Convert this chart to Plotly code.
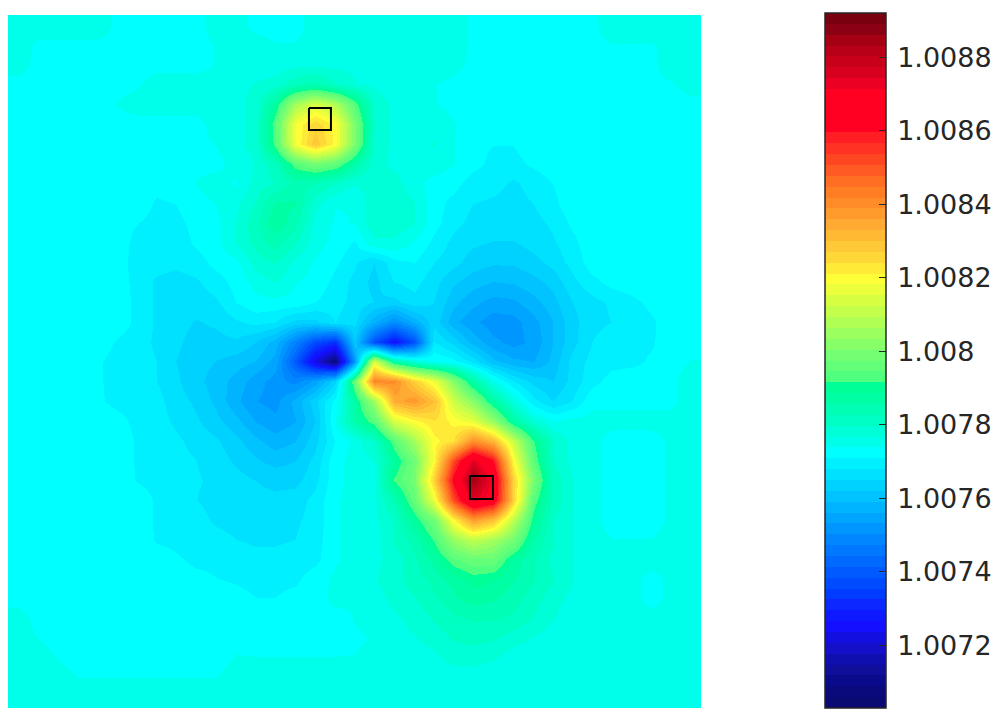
import plotly.graph_objects as go

# cell values, in units of 1e-5 above z_base
z_base = 1.00702
r00 = [74,74,74,74,74,71,71,71,71,71,73,73,71,71,71,73,74,74,74,74,74,74,74,71,71,71,71,71,71,71,74,74,74,74,74]
r01 = [74,71,71,71,71,71,71,71,71,71,72,73,73,72,72,73,74,74,74,74,74,74,74,71,71,71,71,71,71,71,71.7,71.7,71.7,72.5,74]
r02 = [73,71,71,71,71,71,71,71,71,71,72,73,73,73,74,74,74,74,74,74,74,74,73,71,71,71,71,71,71,71,71,71,71,74,74]
r03 = [71,71,71,71,71,71,71.5,73,73,73,73,74,75,76,80,82,78,75,74,73,73,72,71,71,71,71,71,71,71,71,71,71,71,71.5,73]
r04 = [71,71,71,71,71,72,73,73,73,73,73,74,76,86,104,112,106,92,77,74,72,72,71,71,71,71,71,71,71,71,71,71,71,71,71]
r05 = [71,71,71,71,71,71,71,71,71,71,73,74,76,92,116,124,118,98,78,74,73,74,72,71,71,71,71,71,71,71,71,71,71,71,71]
r06 = [71,71,71,71,71,71,71,71,71,71,72,74,76,91,116,127,118,98,77,74,74,75,72,70,69,69,70.5,71,71,71,71,71,71,71,71]
r07 = [71,71,71,71,71,71,71,71,71,71,71,73,75,80,92,97,94,84,76,74,74,74,72,70,68,68,69.5,71,71,71,71,71,71,71,71]
r08 = [71,71,71,71,71,71,71,70,70.5,72,73,71.5,76,78,82,81,78,75,76,76,73,70.5,70,67.5,67,65.5,67,69,71,71,71,71,71,71,71]
r09 = [71,71,71,71,71,71,70.5,68.5,69,71,72,74,78,84,84,76,72,72,77,77,75,70,68,66,65.5,65,66,68,71,71,71,71,71,71,71]
r10 = [71,71,71,71,71,71,69,68,68,70,71,75,80,86,82,74,71.5,72,77,77,75,70,67,65,64.5,64.5,65,66.5,69.5,71,71,71,71,71,71]
r11 = [71,71,71,71,71,71,67.5,67,67,69.5,71,75,79,82,78,73,71,68.5,74,74,71.5,68,65,63.5,62.8,62.8,64,65.5,68,71,71,71,71,71,71]
r12 = [71,71,71,71,71,71,67,67,66.5,67.5,70,71,76,78,74,71.5,69.5,66.5,63,68,69,66,64,61.5,60.5,60.5,62,64,67,70.5,71,71,71,71,71]
r13 = [71,71,71,71,71,71,67.5,65.5,65,65.5,67.5,70,73,75,72,71,68,65,62,66,67,64,60.5,58.5,57,57.5,59,61,65,68,70,71,71,71,71]
r14 = [71,71,71,71,71,71,68,65.5,65,64.5,65.5,69,71,71,71,69,67,65,63,62,65,63,58,55,53,53.5,56,59,63,65,66.5,68,70,71,71]
r15 = [71,71,71,71,71,71,68,65.5,64,62.8,63.5,65.5,67,66,62,62,66,64,55,48,55,62,55,52,49.5,50,53,57,62,65,66,66.5,68.3,71,71]
r16 = [71,71,71,71,71,68.5,67,65.5,63.5,62,62,62.5,60,56,46,35,30,60,36,24,36,66,62,56,52,50,52,57,62,66,68,68,68.5,71,71]
r17 = [71,71,71,71,69.5,67.5,67,66,63,61.5,60,58.5,57,53,38,20,6,50,113,85,76,72,70,65,58,55,54,58,64,67,68,68,69.5,70.5,72]
r18 = [71,71,71,71,69.5,67.5,67,66,63.5,61,58.5,56,52.5,50,47,52,62,95,140,138,125,115,100,84,73,66,62,60,64,68,70,71,71,71,74]
r19 = [71,71,71,71,69.5,68,67.5,67,64.5,62.3,59.3,54.8,51.3,50,55,62,70,85,103,132,136,128,110,100,85,75,67,63,66,71,71,71,71,71,74]
r20 = [71,71,71,71,71,70,68,67,65.5,63.5,61,58,54,52,54,60,72,84,92,112,118,122,118,114,102,85,76,72,73,73,73,73,73,73,73]
r21 = [71,71,71,71,71,71,68.5,67.5,66.5,65,63.5,61,58,55.5,57,62,69,73,78,92,104,118,122,138,130,110,90,78,74,73,70.5,70.5,70.5,72.5,73]
r22 = [71,71,71,71,71,71,68.5,68,67,66,64.5,62.5,60.5,59,60,64,71,73,75,86,96,118,150,172,158,118,93,78,74,73,70.5,70.5,70.5,72.5,73]
r23 = [71,71,71,71,71,71,68.7,68,67.5,66.2,65.5,64,63,62,62,65,71,73,74,90,97,125,160,183,168,125,98,80,75,73,70.5,70.5,70.5,72.5,73]
r24 = [71,71,71,71,71,71,70.5,68.5,67.5,66,65,64.5,64,63.8,64.5,67,71.5,73,74,82,94,115,150,172,165,125,92,80,75,73,70.5,70.5,70.5,72.5,73]
r25 = [71,71,71,71,71,71,70.5,68.5,67.5,67,65.5,65,65,65,65.5,67,71.5,73,74,78,87,96,118,135,128,108,88,78,75,73,70.5,70.5,70.5,72.5,73]
r26 = [71,71,71,71,71,71,71,68.5,68,67.5,67,66,65.5,65.5,66,67.5,71.5,73,73,78,82,90,102,108,104,97,84,78,75,73,72,72,72,73,73]
r27 = [71,71,71,71,71,71,71,71,69.5,68,68,67.5,67,67,67.5,68,71.5,73,74,76,80,85,92,95,95,86,81,77,75,73,73,73,73,73,73]
r28 = [71,71,71,71,71,71,71,71,71,70,69,68.5,68,68,68.3,70.5,72.5,72,74.5,77,79,82,85,88,87,84,81,78,75,73,73,72.5,71,72.5,73]
r29 = [71,71,71,71,71,71,71,71,71,71,71,70,69,69,70,71,72.5,72,73,76,77.5,80,83,85,84,82,79,76,74,73,73,72.5,71,72.5,73]
r30 = [73,71,71,71,71,71,71,71,71,71,71,71,71,71,71,71,71,72,73,74,76,78,80,81,81,80,77.5,75,73,73,73,73,73,73,73]
r31 = [73,71.9,71,71,71,71,71,71,71,71,71,71.5,71,71,71,71,71,71.5,72,73,74.5,76,78,78.5,78,76,74.5,73,73,73,73,73,73,73,73]
r32 = [73,73,71.8,71,71,71,71,71,71,71,71,72,72,72,72,72,72,72,73,73,73,74,76,76,75,73,73,73,73,73,73,73,73,73,73]
r33 = [73,73,73,71.9,71.9,71.9,71.9,71.9,71.9,71.9,71.9,73,73,73,73,73,73,73,73,73,73,73,73,73,73,73,73,73,73,73,73,73,73,73,73]
r34 = [73,73,73,73,73,73,73,73,73,73,73,73,73,73,73,73,73,73,73,73,73,73,73,73,73,73,73,73,73,73,73,73,73,73,73]
rows = [r00,r01,r02,r03,r04,r05,r06,r07,r08,r09,r10,r11,r12,r13,r14,r15,r16,r17,r18,r19,r20,r21,r22,r23,r24,r25,r26,r27,r28,r29,r30,r31,r32,r33,r34]
assert all(len(r) == 35 for r in rows)

tick_vals = [1.0072,1.0074,1.0076,1.0078,1.008,1.0082,1.0084,1.0086,1.0088]
tick_text = ["1.0072","1.0074","1.0076","1.0078","1.008","1.0082","1.0084","1.0086","1.0088"]
z_min, z_max = 1.00703, 1.00892

# colour bands, from the top of the bar down
bands = [(120,0,15),(140,0,20),(165,0,20),(185,0,25),(200,0,25),(215,0,30),(235,0,35),(255,0,35),
 (255,0,35),(255,0,35),(255,0,35),(255,30,35),(255,50,35),(255,70,35),(255,90,35),(255,110,35),
 (255,125,35),(255,140,40),(255,155,45),(255,170,50),(255,185,50),(255,200,55),(255,215,55),(255,235,55),
 (255,255,55),(235,255,60),(215,255,65),(195,255,75),(175,255,85),(155,255,95),(135,255,105),(115,255,115),
 (100,255,120),(80,255,125),(0,255,150),(0,255,165),(0,255,180),(0,255,195),(0,255,215),(0,255,235),
 (0,255,255),(0,240,255),(0,225,255),(0,210,255),(0,195,255),(0,180,255),(0,165,255),(0,150,255),
 (0,135,255),(0,120,255),(0,105,255),(0,90,255),(0,75,255),(0,60,255),(10,40,255),(15,25,255),
 (20,15,255),(20,15,225),(20,15,200),(15,15,175),(15,15,155),(10,10,140),(10,10,125),(10,10,115)]

# the two marked squares, in cell units
box_x = [[14.70,15.81],[22.83,23.99]]
box_y = [[4.20,5.31],[22.78,23.94]]

z = [[z_base + v*1e-5 for v in r] for r in rows]
scale = []
for i, (r,g,b) in enumerate(reversed(bands)):
    c = f"rgb({r},{g},{b})"
    scale += [[i/len(bands), c], [(i+1)/len(bands), c]]

fig = go.Figure()
fig.add_trace(go.Heatmap(z=z, zsmooth="best", zmin=z_min, zmax=z_max, colorscale=scale, hoverinfo="skip",
    colorbar=dict(x=825/1007, xanchor="left", xpad=0, ypad=0, y=1-708/716, yanchor="bottom",
        thickness=61, thicknessmode="pixels", len=695, lenmode="pixels",
        outlinecolor="#262626", outlinewidth=1.5,
        ticks="inside", ticklen=7, tickwidth=1, tickcolor="#262626",
        tickvals=tick_vals, ticktext=["\u2006" + t for t in tick_text],
        tickfont=dict(family="DejaVu Sans", size=27, color="#262626"))))
for bx, by in zip(box_x, box_y):
    fig.add_trace(go.Scatter(x=[bx[0],bx[1],bx[1],bx[0],bx[0]], y=[by[0],by[0],by[1],by[1],by[0]],
        mode="lines", line=dict(color="black", width=2), showlegend=False, hoverinfo="skip"))
fig.update_layout(width=1007, height=716, margin=dict(l=0,r=0,t=0,b=0), autosize=False,
    paper_bgcolor="white", plot_bgcolor="white", showlegend=False,
    xaxis=dict(domain=[8/1007,701/1007], range=[-0.5,34.5], visible=False),
    yaxis=dict(domain=[1-708/716,1-15/716], range=[34.5,-0.5], visible=False))
fig.write_html("out.html", config={"displayModeBar": False},
    post_script="document.body.style.margin='0';document.documentElement.style.overflow='hidden';")
